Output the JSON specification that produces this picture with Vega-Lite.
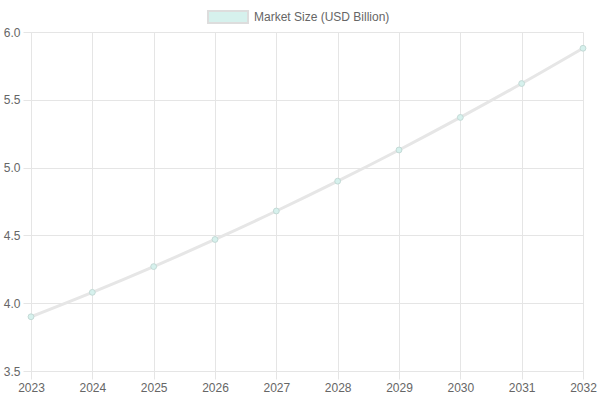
{
  "$schema": "https://vega.github.io/schema/vega-lite/v6.json",
  "autosize": "none",
  "width": 552,
  "height": 339,
  "padding": {"left": 31, "top": 32, "right": 17, "bottom": 29},
  "background": "white",
  "config": {
    "font": "Liberation Sans",
    "view": {"stroke": null},
    "axis": {
      "labelFont": "Liberation Sans",
      "labelFontSize": 12,
      "labelColor": "#666666",
      "gridColor": "#e5e5e5",
      "domainColor": "#e5e5e5",
      "tickColor": "#e5e5e5",
      "tickSize": 8,
      "labelPadding": 3,
      "title": null
    }
  },
  "data": {
    "values": [
      {"year": 2023, "value": 3.90, "series": "Market Size (USD Billion)"},
      {"year": 2024, "value": 4.08, "series": "Market Size (USD Billion)"},
      {"year": 2025, "value": 4.27, "series": "Market Size (USD Billion)"},
      {"year": 2026, "value": 4.47, "series": "Market Size (USD Billion)"},
      {"year": 2027, "value": 4.68, "series": "Market Size (USD Billion)"},
      {"year": 2028, "value": 4.90, "series": "Market Size (USD Billion)"},
      {"year": 2029, "value": 5.13, "series": "Market Size (USD Billion)"},
      {"year": 2030, "value": 5.37, "series": "Market Size (USD Billion)"},
      {"year": 2031, "value": 5.62, "series": "Market Size (USD Billion)"},
      {"year": 2032, "value": 5.88, "series": "Market Size (USD Billion)"}
    ]
  },
  "encoding": {
    "x": {
      "field": "year",
      "type": "quantitative",
      "scale": {"domain": [2023, 2032], "nice": false, "zero": false},
      "axis": {"values": [2023, 2024, 2025, 2026, 2027, 2028, 2029, 2030, 2031, 2032], "format": "d", "labelFlush": false}
    },
    "y": {
      "field": "value",
      "type": "quantitative",
      "scale": {"domain": [3.5, 6.0], "nice": false, "zero": false},
      "axis": {"values": [3.5, 4.0, 4.5, 5.0, 5.5, 6.0], "format": ".1f", "labelFlush": false}
    }
  },
  "layer": [
    {
      "mark": {"type": "line", "stroke": "#e6e6e6", "strokeWidth": 3, "interpolate": "monotone"}
    },
    {
      "mark": {"type": "point", "shape": "circle", "filled": true, "size": 34, "stroke": "#c4dad6", "strokeWidth": 1, "opacity": 1},
      "encoding": {
        "fill": {
          "field": "series",
          "type": "nominal",
          "scale": {"range": ["#d6f1ed"]},
          "legend": {
            "orient": "none",
            "legendX": 176,
            "legendY": -36,
            "direction": "horizontal",
            "title": null,
            "padding": 0,
            "symbolType": "M-1,-0.3H1V0.3H-1Z",
            "symbolSize": 1600,
            "symbolStrokeColor": "#dddddd",
            "symbolStrokeWidth": 2,
            "symbolOpacity": 1,
            "labelFont": "Liberation Sans",
            "labelFontSize": 12,
            "labelColor": "#666666",
            "labelOffset": 5
          }
        }
      }
    }
  ]
}
